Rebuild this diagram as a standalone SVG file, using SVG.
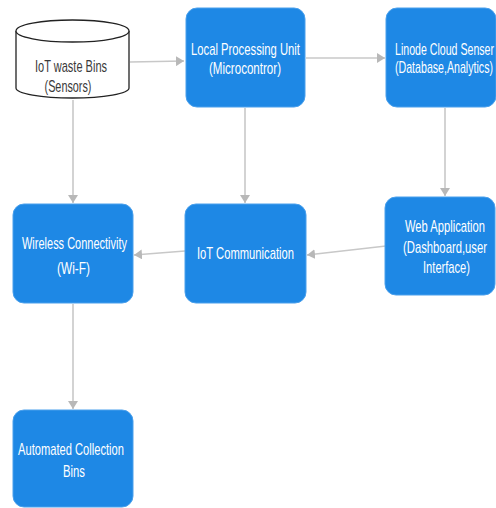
<svg xmlns="http://www.w3.org/2000/svg" width="496" height="508" viewBox="0 0 496 508">
<defs>
<style>
.box{fill:#1e88e5;stroke:#4aa0ec;stroke-width:1;}
.t{font-family:"Liberation Sans",Arial,sans-serif;font-size:16px;fill:#ffffff;text-anchor:middle;}
.tk{font-family:"Liberation Sans",Arial,sans-serif;font-size:16px;fill:#3a3a3a;text-anchor:middle;}
.c{stroke:#c8c8c8;stroke-width:1.6;fill:none;marker-end:url(#ah);}
</style>
<marker id="ah" viewBox="0 0 8 10" refX="8" refY="5" markerWidth="8" markerHeight="10" orient="auto" markerUnits="userSpaceOnUse">
<path d="M0,0 L8,5 L0,10 Z" fill="#b8b8b8"/>
</marker>
</defs>
<rect width="496" height="508" fill="#ffffff"/>
<g id="connectors">
<line class="c" x1="130" y1="62" x2="184" y2="61"/>
<line class="c" x1="306" y1="58" x2="385" y2="58"/>
<line class="c" x1="73" y1="100" x2="73" y2="203"/>
<line class="c" x1="245" y1="108" x2="245" y2="203"/>
<line class="c" x1="445" y1="108" x2="445" y2="196"/>
<line class="c" x1="386" y1="246" x2="307" y2="255"/>
<line class="c" x1="185" y1="251" x2="134" y2="255"/>
<line class="c" x1="73" y1="304" x2="73" y2="409"/>
</g>
<g id="iot-bins">
<path d="M16,31 L16,88 A56.5,10 0 0 0 129,88 L129,31" fill="#ffffff" stroke="#222222" stroke-width="1.3"/>
<ellipse cx="72.5" cy="31" rx="56.5" ry="11" fill="#ffffff" stroke="#222222" stroke-width="1.3"/>
<text class="tk" transform="translate(71,72) scale(0.7,1)" textLength="102.9" lengthAdjust="spacingAndGlyphs">IoT waste Bins</text>
<text class="tk" transform="translate(68,92) scale(0.7,1)" textLength="67.1" lengthAdjust="spacingAndGlyphs">(Sensors)</text>
</g>
<g id="local-processing">
<rect class="box" x="186" y="8" width="119" height="99" rx="11"/>
<text class="t" transform="translate(245.5,55) scale(0.7,1)" textLength="155.7" lengthAdjust="spacingAndGlyphs">Local Processing Unit</text>
<text class="t" transform="translate(245,74) scale(0.7,1)" textLength="102.9" lengthAdjust="spacingAndGlyphs">(Microcontror)</text>
</g>
<g id="linode-cloud">
<rect class="box" x="386" y="8" width="110" height="99" rx="11"/>
<text class="t" transform="translate(444.5,55) scale(0.66,1)" textLength="150" lengthAdjust="spacingAndGlyphs">Linode Cloud Senser</text>
<text class="t" transform="translate(444,73) scale(0.66,1)" textLength="148.5" lengthAdjust="spacingAndGlyphs">(Database,Analytics)</text>
</g>
<g id="wireless">
<rect class="box" x="13" y="204" width="120" height="99" rx="11"/>
<text class="t" transform="translate(74.5,249) scale(0.7,1)" textLength="150" lengthAdjust="spacingAndGlyphs">Wireless Connectivity</text>
<text class="t" transform="translate(73.5,274) scale(0.7,1)" textLength="47.1" lengthAdjust="spacingAndGlyphs">(Wi-F)</text>
</g>
<g id="iot-communication">
<rect class="box" x="185" y="204" width="121" height="99" rx="11"/>
<text class="t" transform="translate(245.5,259) scale(0.7,1)" textLength="138.6" lengthAdjust="spacingAndGlyphs">IoT Communication</text>
</g>
<g id="web-application">
<rect class="box" x="385" y="197" width="110" height="98" rx="11"/>
<text class="t" transform="translate(445,232) scale(0.7,1)" textLength="114.3" lengthAdjust="spacingAndGlyphs">Web Application</text>
<text class="t" transform="translate(445,253) scale(0.7,1)" textLength="120" lengthAdjust="spacingAndGlyphs">(Dashboard,user</text>
<text class="t" transform="translate(446.5,273) scale(0.7,1)" textLength="67.1" lengthAdjust="spacingAndGlyphs">Interface)</text>
</g>
<g id="automated-bins">
<rect class="box" x="13" y="410" width="120" height="97" rx="11"/>
<text class="t" transform="translate(71,455) scale(0.7,1)" textLength="151.4" lengthAdjust="spacingAndGlyphs">Automated Collection</text>
<text class="t" transform="translate(74,477) scale(0.7,1)" textLength="31.4" lengthAdjust="spacingAndGlyphs">Bins</text>
</g>
</svg>
